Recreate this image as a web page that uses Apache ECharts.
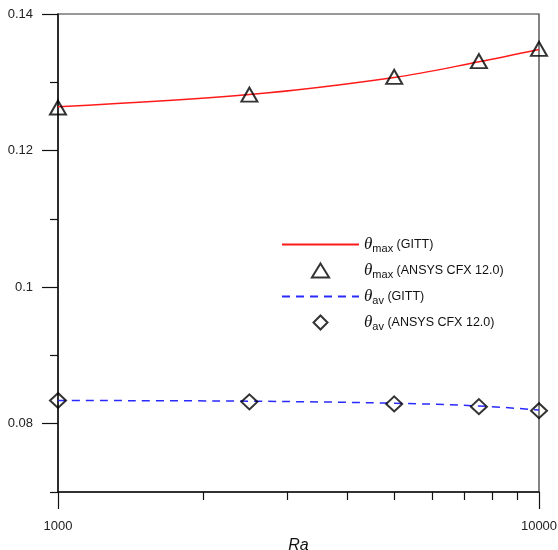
<!DOCTYPE html>
<html><head><meta charset="utf-8">
<script src="https://cdn.jsdelivr.net/npm/echarts@6/dist/echarts.min.js"></script>
<style>html,body{margin:0;padding:0;background:#fff}#c{width:558px;height:550px}</style>
</head><body><div id="c"></div>
<script>
var ra = [1000, 2500, 5000, 7500, 10000];
var thetaMaxGITT = [0.1264, 0.1282, 0.1307, 0.1330, 0.1348];
var thetaMaxANSYS = [0.1263, 0.1282, 0.1308, 0.1331, 0.1349];
var thetaAvGITT = [0.0834, 0.0833, 0.0830, 0.0826, 0.0820];
var thetaAvANSYS = [0.0834, 0.0832, 0.0829, 0.0825, 0.0819];
var xMajorTicks = [1000, 10000];
var xMinorTicks = [2000, 3000, 4000, 5000, 6000, 7000, 8000, 9000];
var yMajorTicks = [0.08, 0.1, 0.12, 0.14];
var yMinorTicks = [0.07, 0.09, 0.11, 0.13];
var legendNames = ['tmaxG', 'tmaxA', 'tavG', 'tavA'];
var legendLabels = {
  tmaxG: '{t|θ}{s|max}{n| (GITT)}',
  tmaxA: '{t|θ}{s|max}{n| (ANSYS CFX 12.0)}',
  tavG: '{t|θ}{s|av}{n| (GITT)}',
  tavA: '{t|θ}{s|av}{n| (ANSYS CFX 12.0)}'
};
function pairs(xs, ys){ return xs.map(function(x,i){ return [x, ys[i]]; }); }

var chart = echarts.init(document.getElementById('c'), null, {renderer:'canvas'});
var axisLineStyle = {color:'#111', width:1.5};
var fontSans = 'Liberation Sans, Arial, sans-serif';
var hiddenSymbol = {opacity:0, color:'transparent', borderWidth:0};
chart.setOption({
  animation:false,
  backgroundColor:'#fff',
  grid:{left:58, right:19, top:14, bottom:58, containLabel:false, outerBoundsMode:'none',
        show:true, borderColor:'#333', borderWidth:1.2, backgroundColor:'transparent'},
  legend:{
    orient:'vertical', left:276, top:231, itemWidth:77, itemHeight:14, itemGap:7.5,
    selectedMode:false,
    data:[
      {name:'tmaxG', itemStyle:hiddenSymbol},
      {name:'tmaxA', icon:'path://M8,0L16,13L0,13Z'},
      {name:'tavG', itemStyle:hiddenSymbol},
      {name:'tavA', icon:'path://M7,0L14,7L7,14L0,7Z'}
    ],
    symbolKeepAspect:true,
    formatter:function(n){ return legendLabels[n]; },
    textStyle:{
      rich:{
        t:{fontFamily:'Liberation Serif, serif', fontStyle:'italic', fontSize:17, color:'#111', lineHeight:20, verticalAlign:'middle'},
        s:{fontFamily:fontSans, fontSize:11, color:'#111', verticalAlign:'bottom', lineHeight:12, padding:[6,0,0,0]},
        n:{fontFamily:fontSans, fontSize:12.5, color:'#111', lineHeight:20, verticalAlign:'middle'}
      }
    }
  },
  xAxis:[{
    type:'log', logBase:10, min:1000, max:10000, gridIndex:0,
    name:'Ra', nameLocation:'middle', nameGap:42,
    nameTextStyle:{fontFamily:fontSans, fontStyle:'italic', fontSize:16, color:'#111'},
    axisLine:{show:true, lineStyle:axisLineStyle},
    axisTick:{show:true, inside:false, length:17, customValues:xMajorTicks, lineStyle:{color:'#111', width:1.2}},
    axisLabel:{show:true, margin:28, customValues:xMajorTicks, formatter:function(v){return String(v);}, color:'#222', fontFamily:fontSans, fontSize:13},
    splitLine:{show:false}
  },{
    type:'log', logBase:10, min:1000, max:10000, gridIndex:0, position:'bottom',
    axisLine:{show:false},
    axisTick:{show:true, inside:false, length:8, customValues:xMinorTicks, lineStyle:{color:'#111', width:1.2}},
    axisLabel:{show:false},
    splitLine:{show:false}
  }],
  yAxis:[{
    type:'value', min:0.07, max:0.14, gridIndex:0,
    axisLine:{show:true, lineStyle:axisLineStyle},
    axisTick:{show:true, inside:false, length:16, customValues:yMajorTicks, lineStyle:{color:'#111', width:1.2}},
    axisLabel:{show:true, margin:25, customValues:yMajorTicks, formatter:function(v){return String(+v.toFixed(2));}, color:'#222', fontFamily:fontSans, fontSize:13},
    splitLine:{show:false}
  },{
    type:'value', min:0.07, max:0.14, gridIndex:0, position:'left',
    axisLine:{show:false},
    axisTick:{show:true, inside:false, length:8, customValues:yMinorTicks, lineStyle:{color:'#111', width:1.2}},
    axisLabel:{show:false},
    splitLine:{show:false}
  }],
  series:[
    {name:'tmaxG', type:'line', xAxisIndex:0, yAxisIndex:0, data:pairs(ra, thetaMaxGITT), smooth:0.35, symbol:'none',
     lineStyle:{color:'#ff1a1a', width:1.5}, itemStyle:{color:'#ff1a1a'}, z:2},
    {name:'tmaxA', type:'scatter', xAxisIndex:0, yAxisIndex:0, data:pairs(ra, thetaMaxANSYS), symbol:'triangle', symbolSize:[16,14], clip:false,
     itemStyle:{color:'rgba(255,255,255,0)', borderColor:'#000', borderWidth:2}, z:3},
    {name:'tavG', type:'line', xAxisIndex:0, yAxisIndex:0, data:pairs(ra, thetaAvGITT), smooth:0.35, symbol:'none',
     lineStyle:{color:'#2a2aff', width:1.5, type:[8,6]}, itemStyle:{color:'#2a2aff'}, z:2},
    {name:'tavA', type:'scatter', xAxisIndex:0, yAxisIndex:0, data:pairs(ra, thetaAvANSYS), symbol:'diamond', symbolSize:[16,15], clip:false,
     itemStyle:{color:'rgba(255,255,255,0)', borderColor:'#000', borderWidth:2}, z:3}
  ]
});
</script></body></html>
